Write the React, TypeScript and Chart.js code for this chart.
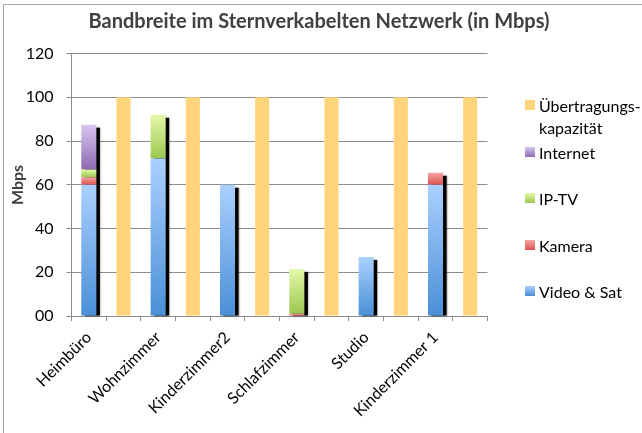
import React, { useEffect, useRef } from "react";
import { Chart, registerables } from "chart.js";

Chart.register(...registerables);

const rooms = ["Heimbüro", "Wohnzimmer", "Kinderzimmer2", "Schlafzimmer", "Studio", "Kinderzimmer 1"];
const videoSat = [60, 72, 60, 0, 27, 60];
const kamera = [3.5, 0, 0, 1, 0, 5.5];
const ipTv = [3.5, 20, 0, 20.5, 0, 0];
const internet = [20.5, 0, 0, 0, 0, 0];
const capacity = [100, 100, 100, 100, 100, 100];
const yTickValues = [0, 20, 40, 60, 80, 100, 120];
const yTickLabels = ["00", "20", "40", "60", "80", "100", "120"];

const titleText = "Bandbreite im Sternverkabelten Netzwerk (in Mbps)";
const yTitle = "Mbps";

const FONT = "Lato, 'Open Sans', sans-serif";

// gradient colours [top, bottom]
const gradVideo = ["#abd0ff", "#4a8fd6"];
const gradKamera = ["#f6a6a4", "#dc5250"];
const gradIptv = ["#e4f8aa", "#9cc84f"];
const gradInternet = ["#d8c6f0", "#8d6ab2"];
const capColor = "#ffd47a";

// interleave: stacked bar in even slot, capacity bar in the odd slot after it
const labels: string[] = [];
rooms.forEach((r) => {
  labels.push(r);
  labels.push("");
});
const stackSlot = (arr: number[]) => {
  const out: (number | null)[] = [];
  arr.forEach((v) => {
    out.push(v);
    out.push(null);
  });
  return out;
};
const capSlot = (arr: number[]) => {
  const out: (number | null)[] = [];
  arr.forEach((v) => {
    out.push(null);
    out.push(v);
  });
  return out;
};

const stackSeries = [videoSat, kamera, ipTv, internet];
const stackGrads = [gradVideo, gradKamera, gradIptv, gradInternet];

function makeGradientColor(dsIndex: number) {
  return (ctx: any) => {
    const g = stackGrads[dsIndex];
    const chart = ctx.chart;
    if (ctx.type !== "data" || !chart.chartArea) return g[1];
    const slot = ctx.dataIndex;
    if (slot % 2 === 1) return g[1];
    const i = slot / 2;
    let bottom = 0;
    for (let k = 0; k < dsIndex; k++) bottom += stackSeries[k][i];
    const top = bottom + stackSeries[dsIndex][i];
    const ys = chart.scales.y;
    const y0 = ys.getPixelForValue(top);
    const y1 = ys.getPixelForValue(bottom);
    if (!isFinite(y0) || !isFinite(y1) || Math.abs(y1 - y0) < 0.5) return g[1];
    const grad = chart.ctx.createLinearGradient(0, y0, 0, y1);
    grad.addColorStop(0, g[0]);
    grad.addColorStop(1, g[1]);
    return grad;
  };
}

const legendItems = [
  { lines: ["Übertragungs-", "kapazität"], grad: [capColor, capColor], y: 105 },
  { lines: ["Internet"], grad: gradInternet, y: 152 },
  { lines: ["IP-TV"], grad: gradIptv, y: 198 },
  { lines: ["Kamera"], grad: gradKamera, y: 245 },
  { lines: ["Video & Sat"], grad: gradVideo, y: 291 },
];

const decorPlugin = {
  id: "decor",
  beforeDraw(chart: any) {
    const c = chart.ctx;
    c.save();
    c.fillStyle = "#ffffff";
    c.fillRect(0, 0, chart.width, chart.height);
    c.strokeStyle = "#a6a6a6";
    c.lineWidth = 1;
    c.beginPath();
    c.moveTo(3.5, chart.height);
    c.lineTo(3.5, 4.5);
    c.lineTo(chart.width, 4.5);
    c.stroke();
    c.restore();
  },
  beforeDatasetsDraw(chart: any) {
    const c = chart.ctx;
    const metas = [0, 1, 2, 3].map((d) => chart.getDatasetMeta(d));
    c.save();
    c.fillStyle = "#000000";
    c.shadowColor = "rgba(0,0,0,0.55)";
    c.shadowBlur = 2;
    for (let i = 0; i < rooms.length; i++) {
      const slot = i * 2;
      let top = Infinity;
      let bottom = -Infinity;
      let x = 0;
      let w = 0;
      metas.forEach((m: any, d: number) => {
        if (!stackSeries[d][i]) return;
        const el = m.data[slot];
        const p = el.getProps(["x", "y", "base", "width"], true);
        top = Math.min(top, p.y, p.base);
        bottom = Math.max(bottom, p.y, p.base);
        x = p.x;
        w = p.width;
      });
      if (!isFinite(top)) continue;
      c.fillRect(x - w / 2 + 3.5, top + 3, w, bottom - top - 3);
    }
    c.restore();
  },
  afterDraw(chart: any) {
    const c = chart.ctx;
    c.save();
    // title
    c.fillStyle = "#404040";
    c.font = `bold 20px ${FONT}`;
    c.textAlign = "center";
    c.textBaseline = "middle";
    c.fillText(titleText, 319, 22);
    // y title
    c.save();
    c.translate(18, 185);
    c.rotate(-Math.PI / 2);
    c.font = `bold 16px ${FONT}`;
    c.fillText(yTitle, 0, 0);
    c.restore();
    // legend
    c.textAlign = "left";
    c.textBaseline = "middle";
    c.font = `16px ${FONT}`;
    legendItems.forEach((it) => {
      const sy = it.y - 5;
      const g = c.createLinearGradient(0, sy, 0, sy + 10);
      g.addColorStop(0, it.grad[0]);
      g.addColorStop(1, it.grad[1]);
      c.fillStyle = g;
      c.fillRect(525, sy, 10, 10);
      c.fillStyle = "#000000";
      it.lines.forEach((ln, k) => {
        c.fillText(ln, 539, it.y + 2 + k * 22);
      });
    });
    c.restore();
  },
};

export default function App() {
  const ref = useRef<HTMLCanvasElement | null>(null);
  useEffect(() => {
    if (!ref.current) return;
    Chart.defaults.font.family = FONT;
    const stackNames = ["Video & Sat", "Kamera", "IP-TV", "Internet"];
    const datasets: any[] = stackSeries.map((arr, d) => ({
      label: stackNames[d],
      data: stackSlot(arr),
      backgroundColor: makeGradientColor(d),
      borderWidth: 0,
      barPercentage: 0.435,
      categoryPercentage: 1,
      stack: "s",
    }));
    datasets.push({
      label: "Übertragungskapazität",
      data: capSlot(capacity),
      backgroundColor: capColor,
      borderColor: "#ffe6b0",
      borderWidth: 0,
      barPercentage: 0.405,
      categoryPercentage: 1,
      stack: "s",
    });
    const chart = new Chart(ref.current, {
      type: "bar",
      data: { labels, datasets },
      plugins: [decorPlugin],
      options: {
        animation: false,
        responsive: false,
        devicePixelRatio: 1,
        layout: { padding: { top: 53.6, right: 154.5, bottom: 0, left: 0 } },
        plugins: { legend: { display: false }, tooltip: { enabled: false }, title: { display: false } },
        scales: {
          x: {
            stacked: true,
            afterFit: (s: any) => {
              s.height = 117;
            },
            grid: {
              display: true,
              drawOnChartArea: false,
              drawTicks: true,
              tickLength: 5,
              color: "#8c8c8c",
              offset: true,
            },
            border: { color: "#8c8c8c", width: 1 },
            ticks: {
              autoSkip: false,
              maxRotation: 45,
              minRotation: 45,
              padding: 7,
              color: "#000000",
              font: { size: 16, family: FONT },
            },
          },
          y: {
            stacked: true,
            min: 0,
            max: 120,
            afterFit: (s: any) => {
              s.width = 71.5;
            },
            afterBuildTicks: (s: any) => {
              s.ticks = yTickValues.map((v) => ({ value: v }));
            },
            grid: { color: "#8c8c8c", tickLength: 5, lineWidth: 1 },
            border: { color: "#8c8c8c", width: 1 },
            ticks: {
              padding: 13,
              color: "#000000",
              font: { size: 16, family: FONT },
              callback: (v: any) => {
                const idx = yTickValues.indexOf(Number(v));
                return idx >= 0 ? yTickLabels[idx] : "";
              },
            },
          },
        },
      },
    });
    return () => chart.destroy();
  }, []);
  return (
    <div style={{ position: "absolute", left: 0, top: 0, width: 642, height: 433 }}>
      <canvas ref={ref} width={642} height={433} style={{ display: "block" }} />
    </div>
  );
}
